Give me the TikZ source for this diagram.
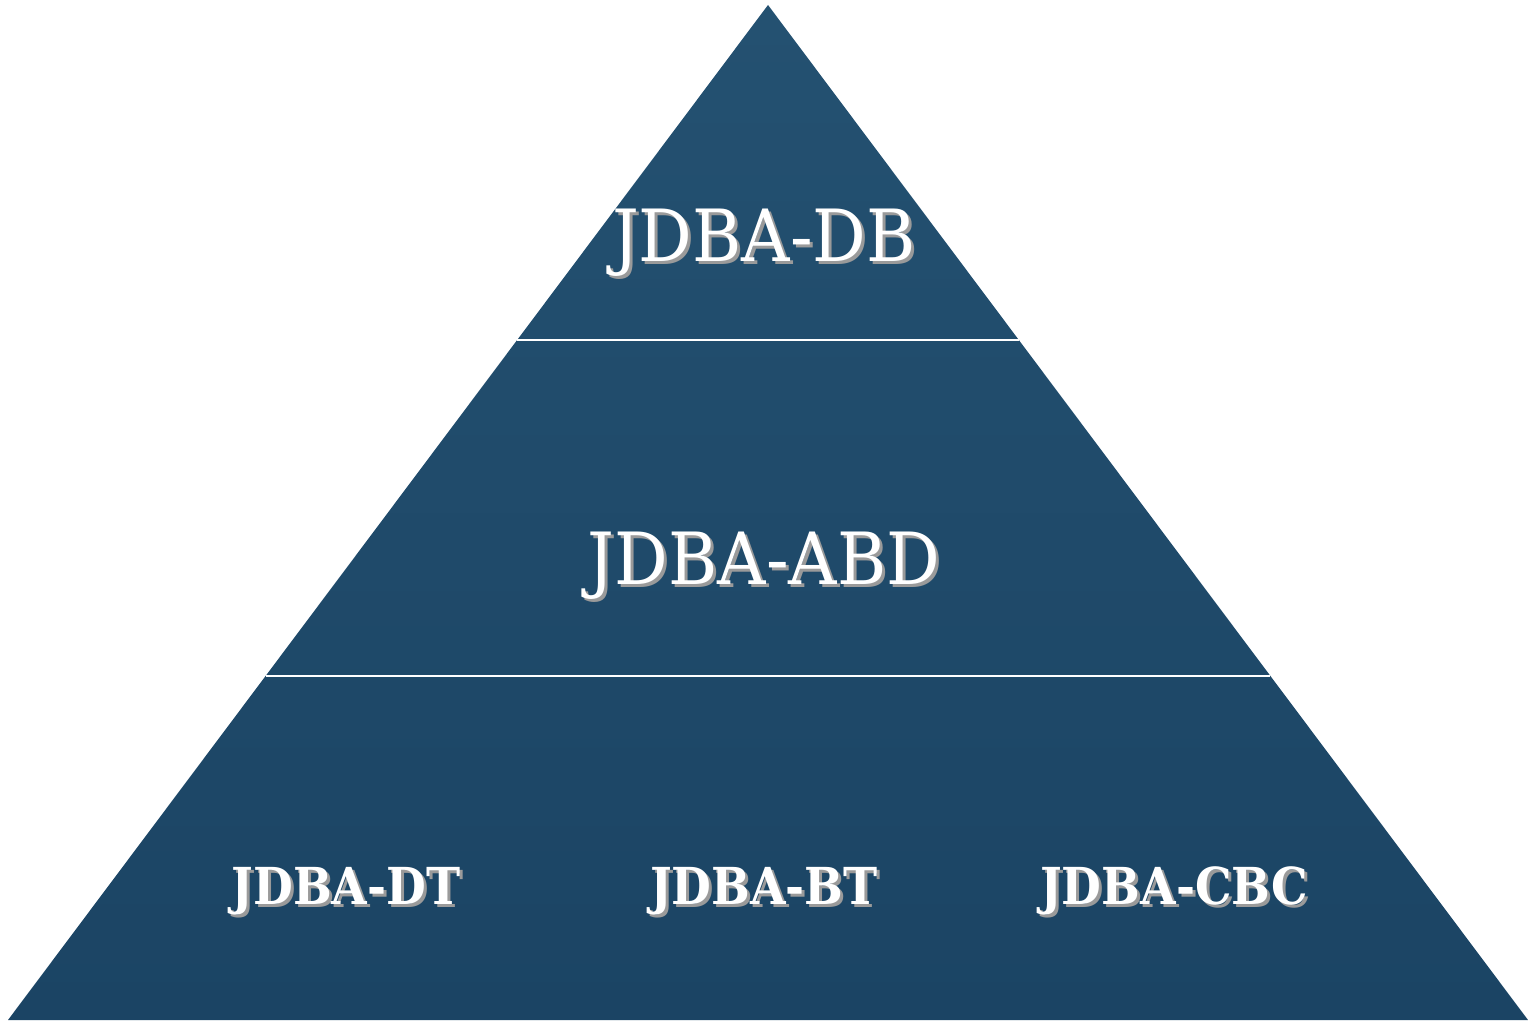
\documentclass[tikz,border=0pt]{standalone}
\usepackage{fontspec}
\setmainfont{DejaVu Serif}
\usepackage{xcolor}
\usepackage{tikz}
\usetikzlibrary{positioning}

\definecolor{pyrtop}{HTML}{245171}
\definecolor{pyrbot}{HTML}{1B4464}
\definecolor{shadowgray}{HTML}{9A9A9A}

\begin{document}
\begin{tikzpicture}[
    big/.style={text=white, font=\fontsize{20.5}{24}\selectfont, inner sep=0pt},
    small/.style={text=white, font=\bfseries\fontsize{14.5}{17}\selectfont, inner sep=0pt},
    shadow/.style={text=shadowgray},
    divider/.style={white, line width=0.6pt}
]
    \useasboundingbox (0,0) rectangle (15.36,10.24);

    % Pyramid
    \shade[top color=pyrtop, bottom color=pyrbot] (7.68,10.19) -- (15.28,0.04) -- (0.08,0.04) -- cycle;
    \draw [divider] (5.17,6.84) -- (10.19,6.84);
    \draw [divider] (2.66,3.48) -- (12.70,3.48);

    % Shadows
    \node (db_sh) [big, shadow] at (7.67,7.78) {\scalebox{0.93}[1]{JDBA-DB}};
    \node (abd_sh) [big, shadow] at (7.67,4.55) {\scalebox{0.93}[1]{JDBA-ABD}};
    \node (dt_sh) [small, shadow] at (3.49,1.30) {\scalebox{0.9}[1]{JDBA-DT}};
    \node (bt_sh) [small, shadow] at (7.67,1.30) {\scalebox{0.9}[1]{JDBA-BT}};
    \node (cbc_sh) [small, shadow] at (11.77,1.30) {\scalebox{0.9}[1]{JDBA-CBC}};

    % Labels
    \node (db) [big] at (7.64,7.81) {\scalebox{0.93}[1]{JDBA-DB}};
    \node (abd) [big] at (7.64,4.58) {\scalebox{0.93}[1]{JDBA-ABD}};
    \node (dt) [small] at (3.46,1.33) {\scalebox{0.9}[1]{JDBA-DT}};
    \node (bt) [small] at (7.64,1.33) {\scalebox{0.9}[1]{JDBA-BT}};
    \node (cbc) [small] at (11.74,1.33) {\scalebox{0.9}[1]{JDBA-CBC}};

\end{tikzpicture}
\end{document}
